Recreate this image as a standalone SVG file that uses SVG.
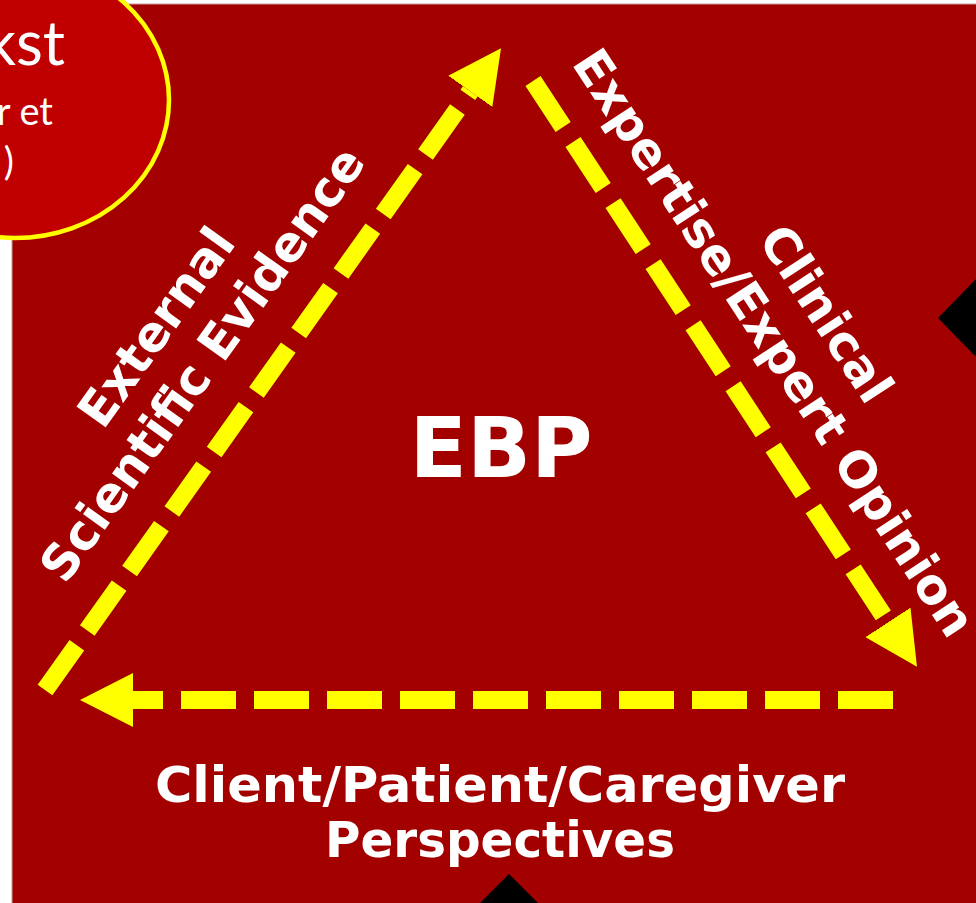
<svg xmlns="http://www.w3.org/2000/svg" width="976" height="903" viewBox="0 0 976 903">
  <style>
    .panel { fill: #a30000; stroke: #c9a0a0; stroke-width: 1; }
    .notch { fill: #000000; }
    .bubble { fill: #c00000; stroke: #ffff00; stroke-width: 4.5; }
    .bubble-text { fill: #ffffff; font-family: Lato, "Open Sans", "Liberation Sans", sans-serif; }
    .flow { fill: none; stroke: #ffff00; stroke-width: 18; stroke-dasharray: 55 18; stroke-linecap: butt; }
    .label { fill: #ffffff; font-family: "DejaVu Sans", Verdana, "Liberation Sans", sans-serif; font-weight: bold; text-anchor: middle; }
    .side { font-size: 49px; }
  </style>
  <defs>
    <marker id="head" viewBox="0 0 53 54" markerWidth="53" markerHeight="54" markerUnits="userSpaceOnUse" refX="0" refY="27" orient="auto">
      <path d="M0,0 L53,27 L0,54 Z" fill="#ffff00"/>
    </marker>
  </defs>

  <rect width="976" height="903" fill="#ffffff"/>

  <!-- dark red panel -->
  <rect id="panel" class="panel" x="12" y="4" width="970" height="905"/>

  <!-- black edge notches -->
  <g id="notches">
    <polygon class="notch" points="976,279 938,318 976,357"/>
    <polygon class="notch" points="480,903 509,874 538,903"/>
  </g>

  <!-- cycle arrows -->
  <g id="connectors">
    <line class="flow" x1="45" y1="690" x2="470.3" y2="91.4" marker-end="url(#head)"/>
    <line class="flow" x1="533" y1="81" x2="887.9" y2="622.4" marker-end="url(#head)"/>
    <line class="flow" x1="893" y1="700" x2="133" y2="700" marker-end="url(#head)"/>
  </g>

  <g id="ebp">
    <text class="label" x="501" y="477" font-size="84">EBP</text>
  </g>

  <g id="evidence">
    <text class="label side" x="170" y="337" transform="rotate(-54.5 170 337)">External</text>
    <text class="label side" x="216" y="374" transform="rotate(-54.5 216 374)">Scientific Evidence</text>
  </g>

  <g id="expertise">
    <text class="label side" x="812" y="323" transform="rotate(56.8 812 323)">Clinical</text>
    <text class="label side" x="760" y="352" transform="rotate(56.8 760 352)">Expertise/Expert Opinion</text>
  </g>

  <g id="perspectives">
    <text class="label" x="500" y="802" font-size="50" textLength="690" lengthAdjust="spacingAndGlyphs">Client/Patient/Caregiver</text>
    <text class="label" x="500" y="857" font-size="50" textLength="350" lengthAdjust="spacingAndGlyphs">Perspectives</text>
  </g>

  <!-- context bubble in the corner -->
  <g id="context">
    <ellipse class="bubble" cx="15" cy="100" rx="154" ry="138"/>
    <text class="bubble-text" x="65" y="65" font-size="62" text-anchor="end">kst</text>
    <text class="bubble-text" x="53" y="125" font-size="38" text-anchor="end">r et</text>
    <text class="bubble-text" x="14" y="175" font-size="38" text-anchor="end">)</text>
  </g>
</svg>
